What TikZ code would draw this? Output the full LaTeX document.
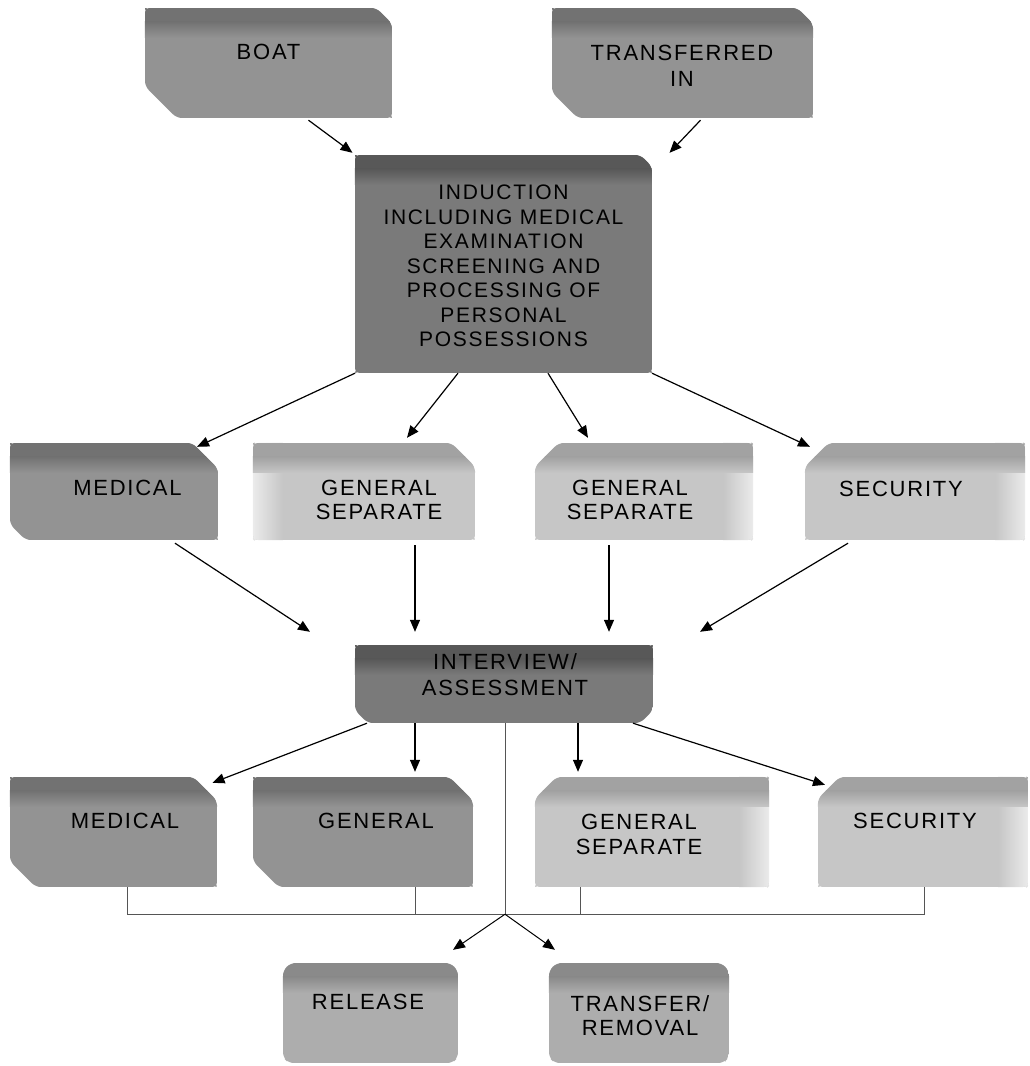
\documentclass[tikz,border=0pt]{standalone}
\usepackage{fontspec}
\setmainfont{Liberation Sans}[LetterSpace=8]
\usetikzlibrary{arrows.meta,calc}

\definecolor{darkfill}{HTML}{7A7A7A}
\definecolor{darkband}{HTML}{585858}
\definecolor{medfill}{HTML}{939393}
\definecolor{medband}{HTML}{727272}
\definecolor{lightfill}{HTML}{C6C6C6}
\definecolor{lightband}{HTML}{A2A2A2}
\definecolor{lightedge}{HTML}{EBEBEB}
\definecolor{outfill}{HTML}{ADADAD}
\definecolor{outband}{HTML}{8A8A8A}
\definecolor{busline}{HTML}{555555}

% Solid box outline for a named placeholder node, with chamfers
% #1 node, #2..#5 chamfer at top left, top right, bottom right, bottom left,
% #6 face colour, #7 top face colour, #8 extra drawing inside the outline
\newcommand\slab[8]{%
  \begin{scope}
    \path[clip, rounded corners=6pt]
      ($(#1.north west)+(0,#2)$) -- ($(#1.north west)+(#2,0)$)
      -- ($(#1.north east)+(-#3,0)$) -- ($(#1.north east)+(0,#3)$)
      -- ($(#1.south east)+(0,-#4)$) -- ($(#1.south east)+(-#4,0)$)
      -- ($(#1.south west)+(#5,0)$) -- ($(#1.south west)+(0,-#5)$) -- cycle;
    \fill[#6] (#1.north west) rectangle (#1.south east);
    #8
    \fill[#7] (#1.north west) rectangle ($(#1.north east)+(0,14)$);
    \shade[top color=#7, bottom color=#6]
      ($(#1.north west)+(0,14)$) rectangle ($(#1.north east)+(0,30)$);
  \end{scope}}
% pale side faces of the light boxes
\newcommand\fadeR[1]{%
  \shade[left color=lightfill, right color=lightedge]
    ($(#1.south east)+(-30,0)$) rectangle (#1.north east);}
\newcommand\fadeL[1]{%
  \shade[left color=lightedge, right color=lightfill]
    (#1.south west) rectangle ($(#1.north west)+(30,0)$);}

\tikzset{
  slot/.style={rectangle, inner sep=0pt, draw=none},
  lbl/.style={inner sep=0pt, align=center,
    font=\fontsize{22}{24}\selectfont},
  flow/.style={line width=1.2pt, -{Triangle[length=12pt,width=10pt]}},
  bus/.style={line width=0.9pt, draw=busline},
}

\begin{document}
\begin{tikzpicture}[x=1pt, y=-1pt]
\useasboundingbox (0,0) rectangle (1030,1066);

% box placeholders
\node[slot, minimum width=247pt, minimum height=110pt] (boat) at (268.5,63) {};
\node[slot, minimum width=261pt, minimum height=110pt] (trin) at (682.5,63) {};
\node[slot, minimum width=297pt, minimum height=218pt] (ind) at (503.5,264) {};
\node[slot, minimum width=208pt, minimum height=97pt] (med1) at (114,491.5) {};
\node[slot, minimum width=222pt, minimum height=97pt] (gs1) at (364,491.5) {};
\node[slot, minimum width=218pt, minimum height=97pt] (gs2) at (644,491.5) {};
\node[slot, minimum width=220pt, minimum height=97pt] (sec1) at (915,491.5) {};
\node[slot, minimum width=298pt, minimum height=78pt] (intv) at (504,684) {};
\node[slot, minimum width=207pt, minimum height=110pt] (med2) at (113.5,832) {};
\node[slot, minimum width=220pt, minimum height=110pt] (gen2) at (363,832) {};
\node[slot, minimum width=234pt, minimum height=110pt] (gs3) at (652,832) {};
\node[slot, minimum width=210pt, minimum height=110pt] (sec2) at (923,832) {};
\node[slot, minimum width=175pt, minimum height=100pt] (rel) at (370.5,1013) {};
\node[slot, minimum width=180pt, minimum height=100pt] (trf) at (639,1013) {};

% box bodies
\slab{boat}{1}{16}{1}{32}{medfill}{medband}{}
\slab{trin}{1}{16}{1}{26}{medfill}{medband}{}
\slab{ind}{1}{12}{1}{1}{darkfill}{darkband}{}
\slab{med1}{1}{26}{1}{16}{medfill}{medband}{}
\slab{gs1}{1}{24}{1}{1}{lightfill}{lightband}{\fadeL{gs1}}
\slab{gs2}{24}{1}{1}{1}{lightfill}{lightband}{\fadeR{gs2}}
\slab{sec1}{24}{1}{1}{1}{lightfill}{lightband}{\fadeR{sec1}}
\slab{intv}{1}{1}{13}{13}{darkfill}{darkband}{}
\slab{med2}{1}{24}{1}{26}{medfill}{medband}{}
\slab{gen2}{1}{24}{1}{26}{medfill}{medband}{}
\slab{gs3}{22}{1}{1}{1}{lightfill}{lightband}{\fadeR{gs3}}
\slab{sec2}{22}{1}{1}{1}{lightfill}{lightband}{\fadeR{sec2}}
\slab{rel}{8}{8}{6}{6}{outfill}{outband}{}
\slab{trf}{8}{8}{6}{6}{outfill}{outband}{}

% box texts
\node[lbl] (boat-t) at (268.5,52) {BOAT};
\node[lbl, font=\fontsize{22}{26}\selectfont] (trin-t) at (682,65.5) {TRANSFERRED\\IN};
\node[lbl, font=\fontsize{21}{24.5}\selectfont] (ind-t) at (503.5,266)
  {INDUCTION\\INCLUDING MEDICAL\\EXAMINATION\\SCREENING AND\\PROCESSING OF\\PERSONAL\\POSSESSIONS};
\node[lbl] (med1-t) at (127.5,488) {MEDICAL};
\node[lbl] (gs1-t) at (379,500) {GENERAL\\SEPARATE};
\node[lbl] (gs2-t) at (630,500) {GENERAL\\SEPARATE};
\node[lbl] (sec1-t) at (901,489) {SECURITY};
\node[lbl, font=\fontsize{22}{26}\selectfont] (intv-t) at (505,675) {INTERVIEW/\\ASSESSMENT};
\node[lbl] (med2-t) at (125,821) {MEDICAL};
\node[lbl] (gen2-t) at (376,821) {GENERAL};
\node[lbl, font=\fontsize{22}{25}\selectfont] (gs3-t) at (639,834) {GENERAL\\SEPARATE};
\node[lbl] (sec2-t) at (915,821) {SECURITY};
\node[lbl] (rel-t) at (368,1002) {RELEASE};
\node[lbl] (trf-t) at (640,1016) {TRANSFER/\\REMOVAL};

% arrivals into induction
\draw[flow] ($(boat.south)+(40,2)$) -- ($(ind.north)+(-151,-2)$);
\draw[flow] ($(trin.south)+(18,2)$) -- ($(ind.north)+(166,-2)$);

% induction to first allocation
\draw[flow] ($(ind.south)+(-148.5,0)$) -- ($(med1.north)+(83,4)$);
\draw[flow] ($(ind.south)+(-45.5,0)$) -- ($(gs1.north)+(43,-5)$);
\draw[flow] ($(ind.south)+(44.5,0)$) -- ($(gs2.north)+(-56,-5)$);
\draw[flow] ($(ind.south)+(148.5,0)$) -- ($(sec1.north)+(-105,4)$);

% first allocation to interview
\draw[flow] ($(med1.south)+(61,3)$) -- ($(intv.north)+(-194,-13)$);
\draw[flow] ($(gs1.south)+(51,5)$) -- ($(intv.north)+(-89,-13)$);
\draw[flow] ($(gs2.south)+(-35,5)$) -- ($(intv.north)+(105,-13)$);
\draw[flow] ($(sec1.south)+(-67,3)$) -- ($(intv.north)+(196,-13)$);

% interview to second allocation
\draw[flow] ($(intv.south)+(-137,0)$) -- ($(med2.north)+(99,6)$);
\draw[flow] ($(intv.south)+(-89,0)$) -- ($(gen2.north)+(52,-5)$);
\draw[flow] ($(intv.south)+(74,0)$) -- ($(gs3.north)+(-74,-5)$);
\draw[flow] ($(intv.south)+(129,0)$) -- ($(sec2.north)+(-98,8)$);

% collecting line to the outcomes
\coordinate (j) at ($(intv.south)+(1,191)$);
\draw[bus] ($(intv.south)+(1,0)$) -- (j);
\draw[bus] ($(med2.south)+(13.5,0)$) |- (j) -| ($(sec2.south)+(1,0)$);
\draw[bus] ($(gen2.south)+(52,0)$) coordinate (g) -- (g |- j);
\draw[bus] ($(gs3.south)+(-72,0)$) coordinate (s) -- (s |- j);
\draw[flow, line width=1pt] (j) -- ($(rel.north)+(82.5,-13)$);
\draw[flow, line width=1pt] (j) -- ($(trf.north)+(-84,-13)$);
\end{tikzpicture}
\end{document}
